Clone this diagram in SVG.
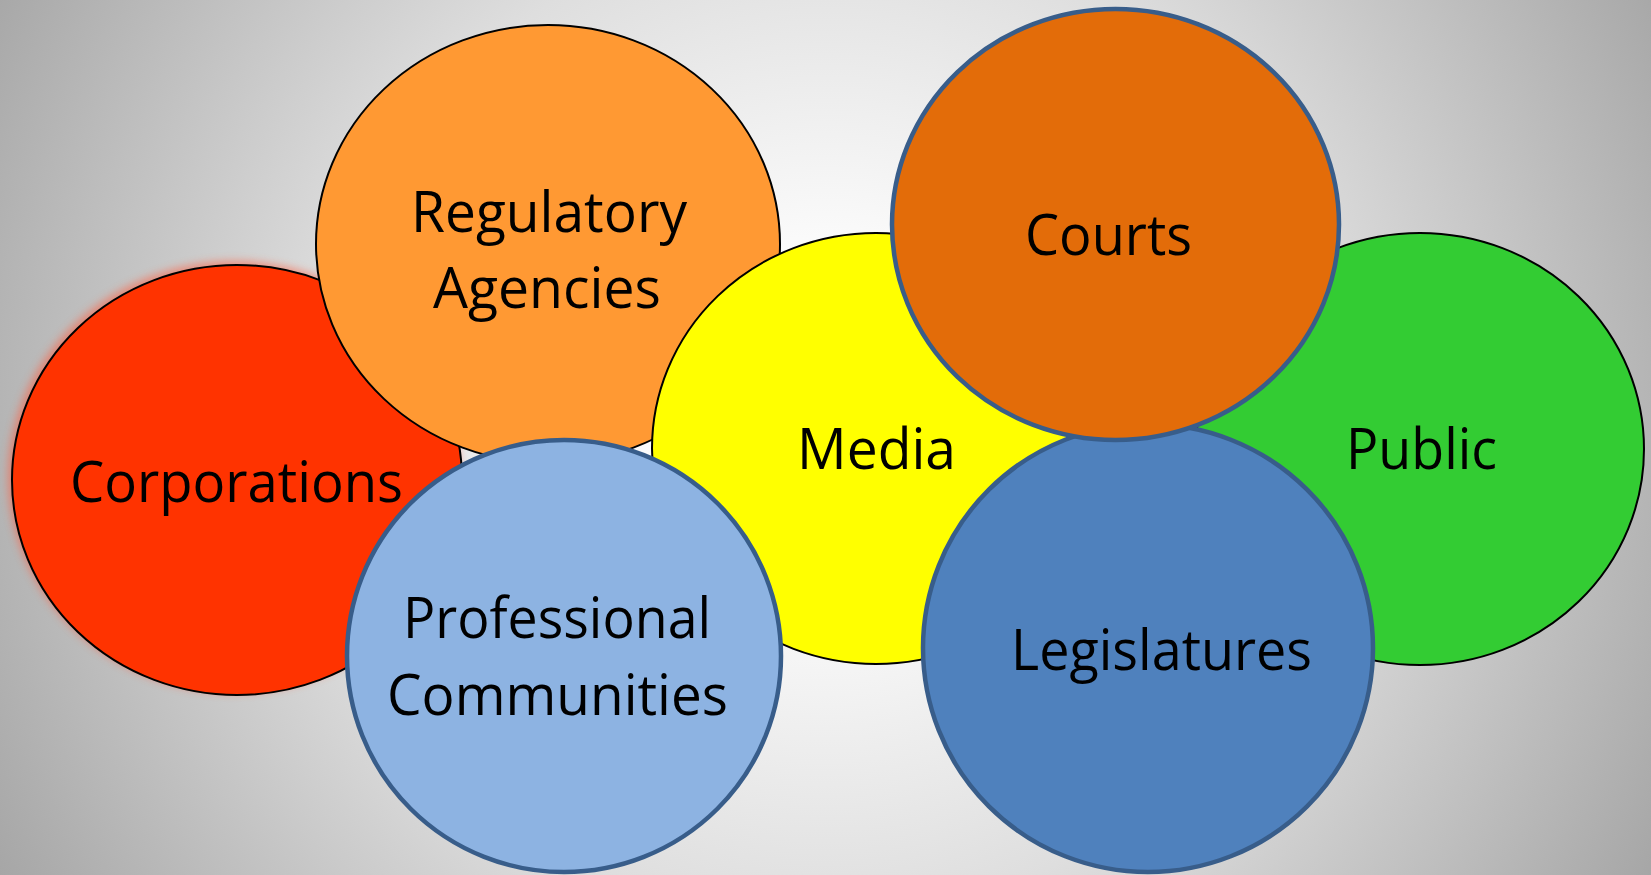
<svg xmlns="http://www.w3.org/2000/svg" width="1651" height="875" viewBox="0 0 1651 875">
  <defs>
    <radialGradient id="bg" gradientUnits="userSpaceOnUse" cx="826" cy="420" r="1000">
      <stop offset="0" stop-color="#ffffff"/>
      <stop offset="0.15" stop-color="#fdfdfd"/>
      <stop offset="0.5" stop-color="#dedede"/>
      <stop offset="1" stop-color="#9f9f9f"/>
    </radialGradient>
    <filter id="glow" x="-20%" y="-20%" width="140%" height="140%">
      <feGaussianBlur stdDeviation="4"/>
    </filter>
  </defs>
  <style>
    .thin { stroke: #000000; stroke-width: 2; }
    .thick { stroke: #385D8A; stroke-width: 4.5; }
    .lbl { font-family: "Open Sans", "Liberation Sans", sans-serif; font-size: 56px; fill: #000000; }
  </style>
  <rect x="0" y="0" width="1651" height="875" fill="url(#bg)"/>

  <g id="corporations">
    <ellipse cx="234" cy="477" rx="226" ry="216" fill="#ff5a3a" opacity="0.55" filter="url(#glow)"/>
    <ellipse cx="237" cy="480" rx="225" ry="215" fill="#FF3300" class="thin"/>
    <text class="lbl" x="70" y="502" textLength="333" lengthAdjust="spacingAndGlyphs">Corporations</text>
  </g>

  <g id="regulatory-agencies">
    <ellipse cx="548" cy="244" rx="232" ry="219" fill="#FF9933" class="thin"/>
    <text class="lbl" x="411" y="232" textLength="276" lengthAdjust="spacingAndGlyphs">Regulatory</text>
    <text class="lbl" x="433" y="308" textLength="228" lengthAdjust="spacingAndGlyphs">Agencies</text>
  </g>

  <g id="media">
    <ellipse cx="876" cy="448.5" rx="224" ry="215.5" fill="#FFFF00" class="thin"/>
    <text class="lbl" x="797" y="469" textLength="159" lengthAdjust="spacingAndGlyphs">Media</text>
  </g>

  <g id="public">
    <ellipse cx="1420" cy="449" rx="224" ry="216" fill="#33CC33" class="thin"/>
    <text class="lbl" x="1346" y="469" textLength="151" lengthAdjust="spacingAndGlyphs">Public</text>
  </g>

  <g id="professional-communities">
    <ellipse cx="564" cy="656" rx="217" ry="216" fill="#8DB3E2" class="thick"/>
    <text class="lbl" x="403" y="638" textLength="308" lengthAdjust="spacingAndGlyphs">Professional</text>
    <text class="lbl" x="387" y="715" textLength="341" lengthAdjust="spacingAndGlyphs">Communities</text>
  </g>

  <g id="legislatures">
    <ellipse cx="1148" cy="648" rx="225" ry="224" fill="#4F81BD" class="thick"/>
    <text class="lbl" x="1011" y="670" textLength="301" lengthAdjust="spacingAndGlyphs">Legislatures</text>
  </g>

  <g id="courts">
    <ellipse cx="1115.5" cy="224.5" rx="223.5" ry="215.5" fill="#E36C09" class="thick"/>
    <text class="lbl" x="1025" y="255" textLength="167" lengthAdjust="spacingAndGlyphs">Courts</text>
  </g>

  <g id="connectors"></g>
</svg>
